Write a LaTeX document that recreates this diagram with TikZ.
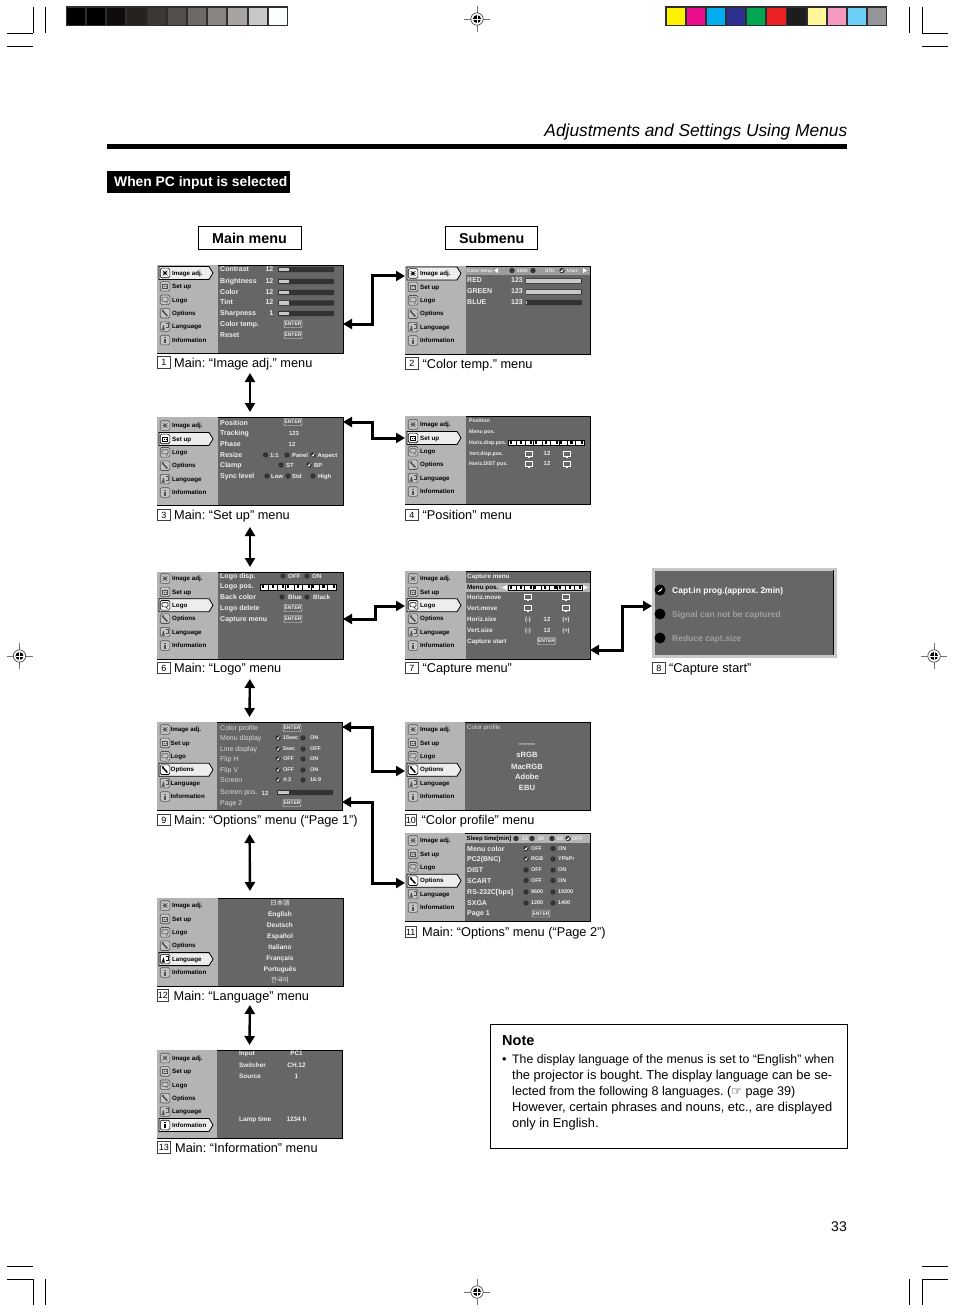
\documentclass[tikz,border=0pt]{standalone}
\usepackage{fontspec}
\setmainfont{Liberation Sans}
\newfontfamily\jpfont{Noto Sans CJK JP}
\newfontfamily\krfont{Noto Sans CJK KR}
\newfontfamily\dejafont{DejaVu Sans}
\usetikzlibrary{arrows.meta,calc}
\definecolor{panelc}{HTML}{666666}
\definecolor{sidec}{HTML}{B4B4B4}
\definecolor{tabc}{HTML}{EDEDED}
\definecolor{menuw}{HTML}{EEEEEE}
\definecolor{barc}{HTML}{333333}
\definecolor{lightc}{HTML}{C8C8C8}
\definecolor{regc}{HTML}{DADADA}
\definecolor{dimc}{HTML}{A0A0A0}
\definecolor{titlec}{HTML}{9C9C9C}
\definecolor{icong}{HTML}{505050}
\definecolor{icongf}{HTML}{C4C4C4}
\newcommand\fsz[1]{\fontsize{#1}{#1}\selectfont}
\newcounter{nodeno}
\tikzset{
  pagebox/.style={draw=black,line width=.8pt,fill=panelc,inner sep=0,outer sep=0,anchor=north west},
  mb/.style={anchor=base west,inner sep=0,text=menuw,font=\fsz{7}\bfseries,yshift=-2.5pt},
  ms/.style={anchor=base west,inner sep=0,text=menuw,font=\fsz{5.2}\bfseries,yshift=-1.9pt},
  ml/.style={anchor=base west,inner sep=0,text=menuw,font=\fsz{6.3}\bfseries,yshift=-2.2pt},
  mt/.style={anchor=base west,inner sep=0,text=menuw,font=\fsz{5.9}\bfseries,yshift=-2.1pt},
  mx/.style={anchor=base west,inner sep=0,text=menuw,font=\fsz{5.4}\bfseries,yshift=-1.9pt},
  mq/.style={anchor=base west,inner sep=0,text=menuw,font=\fsz{4.7}\bfseries,yshift=-1.7pt},
  mr/.style={anchor=base west,inner sep=0,text=regc,font=\fsz{7}\selectfont,yshift=-2.5pt},
  side/.style={anchor=base west,inner sep=0,text=black,font=\fsz{6.2}\bfseries,yshift=-2.2pt},
  bigc/.style={anchor=base,inner sep=0,text=menuw,font=\fsz{7.6}\bfseries,yshift=-2.7pt},
  lang/.style={anchor=base,inner sep=0,text=menuw,font=\fsz{6.6}\bfseries,yshift=-2.4pt},
  info/.style={anchor=base west,inner sep=0,text=menuw,font=\fsz{6.4}\bfseries,yshift=-2.3pt},
  infoc/.style={anchor=base,inner sep=0,text=menuw,font=\fsz{6.4}\bfseries,yshift=-2.3pt},
  cap8/.style={anchor=base west,inner sep=0,font=\fsz{8.5}\bfseries,yshift=-3pt},
  ctr/.style={anchor=base},
  rgt/.style={anchor=base east},
  captxt/.style={anchor=base west,inner sep=0,text=black,font=\fsz{12.75}\selectfont,yshift=-4.5pt},
  capbox/.style={draw=black!75,line width=.6pt,inner sep=0,minimum height=11.5pt,text=black,font=\fsz{9}\selectfont,anchor=west},
  headbox/.style={draw=black,line width=1pt,inner sep=0,font=\fsz{14.3}\bfseries,text=black},
  enterb/.style={draw=menuw,line width=.4pt,rounded corners=1pt,fill=panelc,text=menuw,inner sep=0,minimum width=18pt,minimum height=7pt,font=\fsz{5}\bfseries},
  conn/.style={line width=3pt,draw=black,{Triangle[width=10pt,length=9pt]}-{Triangle[width=10pt,length=9pt]}},
  vconn/.style={line width=2.4pt,draw=black,{Triangle[width=10pt,length=9pt]}-{Triangle[width=10pt,length=9pt]}},
  crop/.style={line width=.8pt,draw=black},
  notet/.style={anchor=base west,inner sep=0,text=black,font=\fsz{12.6}\selectfont},
}
\newcommand\T[4][mb]{\stepcounter{nodeno}\node[#1] (t\arabic{nodeno}) at (#2,#3) {#4};}
\newcommand\enter[2]{\stepcounter{nodeno}\node[enterb] (t\arabic{nodeno}) at (#1,#2) {ENTER};}
\newcommand\radio[2]{\fill[barc] (#1,#2) circle (2.7pt);}
\newcommand\radiock[2]{\fill[barc] (#1,#2) circle (2.7pt);\fill[white] (#1-1.8,#2+1.2) -- (#1+1.8,#2-1.8) -- (#1+.4,#2+1.4) -- cycle;}
\newcommand\slider[4]{\fill[barc,rounded corners=.8pt] (#1,#3-2.6) rectangle (#2,#3+2.6);\fill[lightc] (#1+.8,#3-1.8) rectangle (#4,#3+1.8);}
\newcommand\posrow[4]{%
  \fill[white] (#1,#3) rectangle (#2,#4);
  \pgfmathsetmacro\cw{(#2-#1)/9}
  \foreach \k/\u in {0/.2,1/.4,2/.65,3/.2,4/.4,5/.65,6/.2,7/.4,8/.65}{
    \fill[black] (#1+\k*\cw+\cw*\u,#3+1.2) rectangle ++(.25*\cw,#4-#3-3);
    \draw[black,line width=.3pt] (#1+\k*\cw,#3) -- (#1+\k*\cw,#4);
  }
  \draw[black,line width=.4pt] (#1,#3) rectangle (#2,#4);}
\newcommand\posicon[2]{\draw[white,line width=.7pt,fill=panelc] (#1-3.5,#2-2.5) rectangle (#1+3.5,#2+2.5);\fill[white] (#1-1,#2+2) rectangle (#1+1,#2+4);}
\newcommand\sideicon[3]{% index, x, y
  \draw[\iconc,line width=.6pt,fill=\iconf,rounded corners=1.4pt] (#2-4.8,#3-4.8) rectangle (#2+4.8,#3+4.8);
  \ifcase#1
    \fill[\iconc] (#2,#3) circle (1.6pt);\draw[\iconc,line width=.4pt] (#2-3.3,#3) -- (#2+3.3,#3) (#2,#3-3.3) -- (#2,#3+3.3) (#2-2.4,#3-2.4) -- (#2+2.4,#3+2.4) (#2-2.4,#3+2.4) -- (#2+2.4,#3-2.4);
  \or
    \draw[\iconc,line width=.5pt] (#2-2.6,#3-2) rectangle (#2+2.6,#3+2);\fill[\iconc] (#2-.9,#3-.4) rectangle ++(.9,.9);\fill[\iconc] (#2+.5,#3-.4) rectangle ++(.9,.9);
  \or
    \draw[\iconc,line width=.6pt,rounded corners=.6pt] (#2-3,#3-2.6) rectangle (#2+3,#3+1.6);\draw[\iconc,line width=.6pt] (#2+.6,#3+1.6) -- (#2+2.4,#3+3.4);
  \or
    \draw[\iconc,line width=1.5pt] (#2-2.6,#3-2.6) -- (#2+2.4,#3+2.8);\fill[\iconc] (#2-3,#3-1) -- (#2-.8,#3-3.2) -- (#2-2.8,#3-3.4) -- cycle;
  \or
    \fill[\iconc] (#2-3.4,#3+3.4) -- (#2-1.4,#3-2) -- (#2-.2,#3+3.4) -- cycle;\draw[\iconc,line width=.5pt] (#2+.6,#3-3) -- (#2+3.4,#3-3) -- (#2+3.4,#3+1) -- (#2+.6,#3+1);
  \or
    \fill[\iconc] (#2-1,#3-1) rectangle (#2+1,#3+3);\fill[\iconc] (#2-1,#3-3) rectangle (#2+1,#3-1.9);
  \fi}
% name x0 y0 x1 y1 sidex selected firsty textx
\newcommand\panel[9]{%
  \node[pagebox,minimum width={(#4-#2)*1pt},minimum height={(#5-#3)*1pt}] (#1) at (#2,#3) {};
  \fill[sidec] (#2+.4,#3+.4) rectangle (#6,#5-.4);
  \pgfmathsetmacro\seltop{#8+13.4*#7}
  \draw[black,line width=.8pt,fill=tabc] (#2+2,\seltop-6.5) -- (#2+52,\seltop-6.5) -- (#2+56,\seltop) -- (#2+52,\seltop+6.5) -- (#2+2,\seltop+6.5) -- cycle;
  \foreach \i/\t in {0/Image adj.,1/Set up,2/Logo,3/Options,4/Language,5/Information}{
    \ifnum\i=#7 \def\iconc{black}\def\iconf{white}\else\def\iconc{icong}\def\iconf{icongf}\fi
    \pgfmathsetmacro\yy{#8+13.4*\i}
    \sideicon{\i}{#2+8}{\yy}
    \T[side]{#9}{\yy}{\t}
  }}
\newcommand\capt[6]{% x y num width textx text
  \stepcounter{nodeno}\node[capbox,minimum width=#4pt] (t\arabic{nodeno}) at (#1,#2) {#3};
  \T[captxt]{#5}{#2}{#6}}
\newcommand\cropL[4]{\draw[crop] (#1,#2) -- (#3,#4);}
\newcommand\regmark[2]{%
  \draw[black!55,line width=.6pt] (#1-13,#2) -- (#1+13,#2) (#1,#2-13) -- (#1,#2+13);
  \draw[black!70,line width=.7pt,fill=white] (#1,#2) circle (6.2pt);
  \fill[black] (#1,#2) circle (4pt);
  \draw[white,line width=.5pt] (#1-4,#2) -- (#1+4,#2) (#1,#2-4) -- (#1,#2+4);}
\begin{document}
\frenchspacing
\begin{tikzpicture}[x=1pt,y=-1pt]
\useasboundingbox (0,0) rectangle (954,1313);
\fill[white] (0,0) rectangle (954,1313);
% crop marks
\cropL{33}{7}{33}{33}\cropL{7}{33}{33}{33}\cropL{45}{7}{45}{33}\cropL{7}{46}{33}{46}
\cropL{909}{7}{909}{33}\cropL{922}{7}{922}{33}\cropL{922}{33}{948}{33}\cropL{922}{46}{948}{46}
\cropL{7}{1266}{33}{1266}\cropL{7}{1279}{33}{1279}\cropL{33}{1279}{33}{1305}\cropL{45}{1279}{45}{1305}
\cropL{922}{1266}{948}{1266}\cropL{922}{1279}{948}{1279}\cropL{922}{1279}{922}{1305}\cropL{909}{1279}{909}{1305}
\regmark{477}{19}\regmark{19.5}{656}\regmark{934}{656}\regmark{477}{1292}
% colour bars
\fill[black!82] (66,6) rectangle (288,26);
\foreach \n/\c in {0/000000,1/000000,2/100C0B,3/262220,4/3D3836,5/55504C,6/6E6967,7/888482,8/A6A3A1,9/C8C8C8,10/FBFEFF}{
  \definecolor{cellc}{HTML}{\c}\fill[cellc] (66.8+\n*20.2,8) rectangle ++(18.2,17);}
\fill[black!82] (665,6) rectangle (887,26);
\foreach \n/\c in {0/FFF200,1/EC0E8C,2/00AEEF,3/2E3192,4/00A651,5/ED2024,6/1F1C1D,7/FFF799,8/F49AC2,9/6DCFF6,10/939598}{
  \definecolor{cellc}{HTML}{\c}\fill[cellc] (666.8+\n*20.1,8) rectangle ++(18.2,17);}
% header
\T[anchor=base east,inner sep=0,text=black,font=\fsz{17.35}\itshape]{847.5}{137}{Adjustments and Settings Using Menus}
\fill[black] (107,144) rectangle (847,149);
\node[fill=black,inner sep=0,minimum width=183pt,minimum height=22pt,anchor=north west] (sect) at (107,171) {};
\T[anchor=base west,inner sep=0,text=white,font=\fsz{13.85}\bfseries]{114}{187}{When PC input is selected}
\node[headbox,minimum width=103pt,minimum height=23pt] (hmain) at (249.5,238.5) {Main menu};
\node[headbox,minimum width=92pt,minimum height=23pt] (hsub) at (491,238.5) {\hspace*{1.5pt}Submenu};

% P1
\panel{m1}{157}{265}{343}{353}{218}{0}{273}{172}
\T{220}{269}{Contrast}\T{220}{281}{Brightness}\T{220}{292}{Color}\T{220}{302.5}{Tint}\T{220}{313}{Sharpness}\T{220}{324}{Color temp.}\T{220}{335}{Reset}
\foreach \yy/\nn in {269/12,281/12,292/12,302.5/12,313/1}{\T[mb,rgt]{273.5}{\yy}{\nn}\slider{278}{334}{\yy+.5}{289}}
\enter{293}{324}\enter{293}{335}
\capt{157}{362.5}{1}{13}{174}{Main: “Image adj.” menu}
% P2
\panel{m2}{405}{266}{590.5}{354}{466}{0}{273.5}{420}
\fill[titlec] (466,267) rectangle (590,275);
\T[mq]{467}{270.5}{Color temp.}\fill[white] (494,270.5) -- (498,268) -- (498,273) -- cycle;
\radio{512}{270.5}\T[mq]{517}{270.5}{6500}\radio{533}{270.5}\T[mq]{545}{270.5}{STD}\radiock{562}{270.5}\T[mq]{567}{270.5}{User}\fill[white] (587,270.5) -- (583,268) -- (583,273) -- cycle;
\T{467}{280.5}{RED}\T{467}{291.5}{GREEN}\T{467}{302}{BLUE}
\foreach \yy in {280.5,291.5,302}{\T[mb,rgt]{523}{\yy}{123}}
\slider{525.5}{582}{281}{581}\slider{525.5}{582}{292}{581}\slider{525.5}{582}{302.5}{527}
\capt{405}{363.5}{2}{13}{422.5}{“Color temp.” menu}
% P3
\panel{m3}{157}{417}{343}{505}{218}{1}{425.5}{172}
\T{220}{423}{Position}\T{220}{433}{Tracking}\T{220}{444}{Phase}\T{220}{455}{Resize}\T{220}{465}{Clamp}\T{220}{476}{Sync level}
\enter{293}{422}\T[mt,ctr]{294}{433}{123}\T[mt,ctr]{292}{444}{12}
\radio{265.5}{455}\T[mt]{270}{455}{1:1}\radio{287}{455}\T[mt]{292}{455}{Panel}\radiock{313}{455}\T[mt]{317.5}{455}{Aspect}
\radio{281}{465}\T[mt]{286}{465}{ST}\radiock{309}{465}\T[mt]{314}{465}{BP}
\radio{267}{476}\T[mt]{271}{476}{Low}\radio{288}{476}\T[mt]{292}{476}{Std}\radio{313}{476}\T[mt]{318}{476}{High}
\capt{157}{515}{3}{13}{174}{Main: “Set up” menu}
% P4
\panel{m4}{405}{416}{590}{504}{466}{1}{424.5}{420}
\T[ms]{469}{421}{Position}\T[ms]{469}{432}{Menu pos.}\T[ms]{469}{442.5}{Horiz.disp.pos.}\T[ms]{469}{453.5}{Vert.disp.pos.}\T[ms]{469}{463.5}{Horiz.DIST pos.}
\posrow{508}{584}{440}{445.5}
\posicon{529}{454}\posicon{567}{454}\posicon{529}{463.5}\posicon{567}{463.5}
\T[mt,ctr]{547}{453}{12}\T[mt,ctr]{547}{463}{12}
\capt{405}{515}{4}{13}{422.5}{“Position” menu}
% P6
\panel{m6}{157}{572}{343}{659}{218}{2}{578.5}{172}
\T{220}{576}{Logo disp.}\T{220}{586}{Logo pos.}\T{220}{597}{Back color}\T{220}{608}{Logo delete}\T{220}{619}{Capture menu}
\radio{283}{576}\T[ml]{288}{576}{OFF}\radio{307}{576}\T[ml]{312}{576}{ON}
\posrow{260}{336}{584}{590}
\radio{282}{597}\T[ml]{288}{597}{Blue}\radio{307}{597}\T[ml]{313}{597}{Black}
\enter{293}{608}\enter{293}{619}
\capt{157}{668}{6}{13}{174}{Main: “Logo” menu}
% P7
\panel{m7}{405}{571}{590}{659}{466}{2}{578.5}{420}
\fill[sidec] (466,583) rectangle (589.5,592);
\T[ml]{467}{576}{Capture menu}\T[ml,text=black]{467}{587.5}{Menu pos.}
\fill[white] (502,587.5) -- (507,585) -- (507,590) -- cycle;\posrow{508}{582}{585}{590.5}\fill[white] (588,587.5) -- (583,585) -- (583,590) -- cycle;
\T[ml]{467}{597}{Horiz.move}\T[ml]{467}{608}{Vert.move}\T[ml]{467}{619}{Horiz.size}\T[ml]{467}{630}{Vert.size}\T[ml]{467}{641}{Capture start}
\posicon{528}{597}\posicon{566}{597}\posicon{528}{608}\posicon{566}{608}
\T[mt,ctr]{528}{619}{(-)}\T[mt,ctr]{547}{619}{12}\T[mt,ctr]{566}{619}{(+)}
\T[mt,ctr]{528}{630}{(-)}\T[mt,ctr]{547}{630}{12}\T[mt,ctr]{566}{630}{(+)}
\enter{546.5}{641}
\capt{405}{668}{7}{13}{422.5}{“Capture menu"}
% P8
\node[draw=lightc,line width=3pt,fill=panelc,inner sep=0,outer sep=1.5pt,minimum width=182pt,minimum height=87pt,anchor=north west] (m8) at (652,568) {};
\draw[black,line width=1.2pt] (833.6,570) -- (833.6,655);
\fill[black] (660,590) circle (5.5pt);\fill[white] (657.5,592) -- (662.5,587.5) -- (661,591) -- cycle;
\fill[black] (660,614) circle (5.5pt);\fill[black] (660,638) circle (5.5pt);
\T[cap8,text=white]{672}{590}{Capt.in prog.(approx. 2min)}
\T[cap8,text=dimc]{672}{614}{Signal can not be captured}
\T[cap8,text=dimc]{672}{638}{Reduce capt.size}
\capt{652}{668}{8}{13}{669}{“Capture start”}
% P9
\panel{m9}{157}{722}{342}{810}{217}{3}{729.5}{170.5}
\T[mr]{220}{728}{Color profile}\T[mr]{220}{738}{Menu display}\T[mr]{220}{749}{Line display}\T[mr]{220}{759}{Flip H}\T[mr]{220}{770}{Flip V}\T[mr]{220}{780}{Screen}\T[mr]{220}{792}{Screen pos.}\T[mr]{220}{803}{Page 2}
\enter{292}{728}\enter{292}{803}
\foreach \yy/\aa/\bb in {738/15sec/ON,749/5sec/OFF,759/OFF/ON,770/OFF/ON,780/4:3/16:9}{
  \radiock{278}{\yy}\T[mx]{283}{\yy}{\aa}\radio{303}{\yy}\T[mx]{310}{\yy}{\bb}}
\T[mt,ctr]{265}{793}{12}\slider{277}{333}{792.5}{289}
\capt{157}{820}{9}{13}{174}{Main: “Options” menu (“Page 1”)}
% P10
\panel{m10}{405}{722}{590}{810}{465}{3}{729.5}{420}
\T[mr,font=\fsz{6.2}\selectfont]{467}{727}{Color profile}
\T[bigc]{527}{744}{––––}\T[bigc]{527}{755}{sRGB}\T[bigc]{527}{767}{MacRGB}\T[bigc]{527}{776.5}{Adobe}\T[bigc]{527}{787.5}{EBU}
\capt{405}{820}{10}{11}{421.5}{“Color profile” menu}
% P11
\panel{m11}{405}{833}{590}{921}{465}{3}{840.5}{420}
\fill[sidec] (465,834) rectangle (589.5,843);
\T[ms,text=black,font=\fsz{6}\bfseries]{466.5}{838.5}{Sleep time[min]}
\radio{516}{838.5}\T[mx]{522}{838.5}{15}\radio{532}{838.5}\T[mx]{538}{838.5}{30}\radio{552}{838.5}\T[mx]{557}{838.5}{60}\radiock{568}{838.5}\T[mx]{572}{838.5}{OFF}
\T{467}{848.5}{Menu color}\T{467}{859}{PC2(BNC)}\T{467}{870}{DIST}\T{467}{880.5}{SCART}\T{467}{892}{RS-232C[bps]}\T{467}{903}{SXGA}\T{467}{913}{Page 1}
\radiock{526}{848.5}\T[mx]{531}{848.5}{OFF}\radio{553}{848.5}\T[mx]{558}{848.5}{ON}
\radiock{526}{859}\T[mx]{531}{859}{RGB}\radio{553}{859}\T[mx]{558}{859}{YPbPr}
\radio{526}{870}\T[mx]{531}{870}{OFF}\radio{553}{870}\T[mx]{558}{870}{ON}
\radio{526}{880.5}\T[mx]{531}{880.5}{OFF}\radio{553}{880.5}\T[mx]{558}{880.5}{ON}
\radio{526}{892}\T[mx]{531}{892}{9600}\radio{553}{892}\T[mx]{558}{892}{19200}
\radio{526}{903}\T[mx]{531}{903}{1280}\radio{553}{903}\T[mx]{558}{903}{1400}
\enter{541}{913.5}
\capt{405}{932}{11}{11}{422}{Main: “Options” menu (“Page 2”)}
% P12
\panel{m12}{157}{898}{343}{986}{218}{4}{905.5}{172}
\T[lang,font=\fsz{6.5}\jpfont]{280}{903}{日本語}
\T[lang]{280}{914}{English}\T[lang]{280}{925}{Deutsch}\T[lang]{280}{936}{Español}\T[lang]{280}{947}{Italiano}\T[lang]{280}{958}{Français}\T[lang]{280}{969}{Português}
\T[lang,font=\fsz{6.5}\krfont]{280}{980}{한국어}
\capt{157}{995.5}{12}{11}{173.5}{Main: “Language” menu}
% P13
\panel{m13}{157}{1050}{342}{1138}{217}{5}{1058}{172}
\T[info]{239}{1053.5}{Input}\T[info]{239}{1065}{Switcher}\T[info]{239}{1076}{Source}\T[info]{239}{1119}{Lamp time}
\T[infoc]{296.5}{1053.5}{PC1}\T[infoc]{296.5}{1065}{CH.12}\T[infoc]{296.5}{1076}{1}\T[infoc]{296.5}{1119}{1234 h}
\capt{157}{1147.5}{13}{13}{175}{Main: “Information” menu}
% connectors
\draw[conn] (m1.east |- 0,324) -- (372.5,324) -- (372.5,276) -- (m2.west |- 0,276);
\draw[conn] (m3.east |- 0,422) -- (372.5,422) -- (372.5,438) -- (m4.west |- 0,438);
\draw[conn] (m6.east |- 0,619) -- (375,619) -- (375,606) -- (m7.west |- 0,606);
\draw[conn] (m7.east |- 0,650) -- (622,650) -- (622,606) -- (m8.west |- 0,606);
\draw[conn] (m9.east |- 0,727) -- (372.5,727) -- (372.5,771) -- (m10.west |- 0,771);
\draw[conn] (m9.east |- 0,802) -- (372.5,802) -- (372.5,883) -- (m11.west |- 0,883);
\draw[vconn,shorten <=20pt,shorten >=5pt] (m1.south) -- (m3.north);
\draw[vconn,shorten <=22pt,shorten >=5pt] (m3.south) -- (m6.north);
\draw[vconn,shorten <=20pt,shorten >=5pt] (m6.south) -- (m9.north);
\draw[vconn,shorten <=24pt,shorten >=7pt] (m9.south) -- (m12.north);
\draw[vconn,shorten <=19pt,shorten >=5pt] (m12.south) -- (m13.north);
% note
\node[draw=black,line width=1pt,inner sep=0,minimum width=356.5pt,minimum height=124pt,anchor=north west] (note) at (490,1023.5) {};
\T[anchor=base west,inner sep=0,text=black,font=\fsz{14.5}\bfseries]{502}{1045}{Note}
\T[notet]{502}{1063.5}{•}
\T[notet,font=\fsz{12.3}\selectfont]{512}{1063.5}{The display language of the menus is set to “English” when}
\T[notet,font=\fsz{12.85}\selectfont]{512}{1079.5}{the projector is bought. The display language can be se-}
\T[notet]{512}{1095.5}{lected from the following 8 languages. ({\dejafont\fsz{12}☞} page 39)}
\T[notet,font=\fsz{12.85}\selectfont]{512}{1111.5}{However, certain phrases and nouns, etc., are displayed}
\T[notet,font=\fsz{12.85}\selectfont]{512}{1127.5}{only in English.}
\T[anchor=base east,inner sep=0,text=black,font=\fsz{14}\selectfont]{847}{1231}{33}
\end{tikzpicture}
\end{document}
